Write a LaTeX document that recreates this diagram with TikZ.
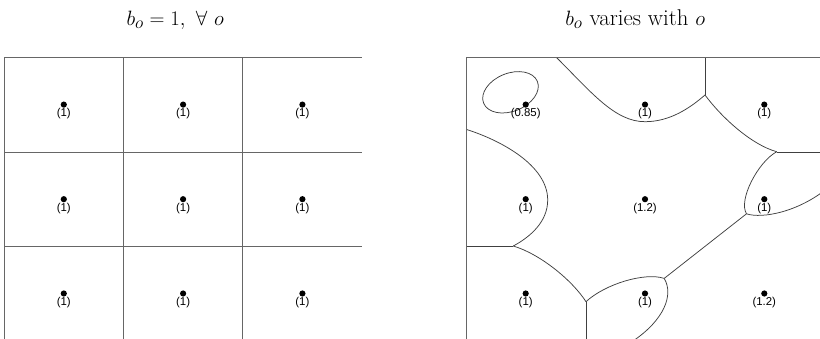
\documentclass[tikz,border=0pt]{standalone}
\usepackage{fontspec}
\newfontfamily\labfont{Liberation Sans}
\begin{document}
\begin{tikzpicture}[x=1pt,y=-1pt,
  dot/.style={circle,fill=black,inner sep=0pt,minimum size=6.2pt},
  lab/.style={font=\labfont\fontsize{11.4}{13}\selectfont,inner sep=0pt,anchor=base},
  gridl/.style={draw=black!60,line width=0.9pt},
  bnd/.style={draw=black!75,line width=0.75pt},
  title/.style={font=\fontsize{22.8}{27}\selectfont,anchor=base,inner sep=0pt}]
\useasboundingbox (0,0) rectangle (820,339);

% titles
\node[title] (t1) at (175.3,25.8) {$b_o = 1,\ \forall\ o$};
\node[title] (t2) at (635.3,25.8) {$b_o$ varies with $o$};

% left panel
\draw[gridl] (4,339) -- (4,57.7) -- (362,57.7);
\draw[gridl] (123.3,57.7) -- (123.3,339);
\draw[gridl] (242.7,57.7) -- (242.7,339);
\draw[gridl] (4,152) -- (362,152);
\draw[gridl] (4,246.3) -- (362,246.3);
\foreach \i/\x in {1/63.8,2/183.1,3/302.4}
  \foreach \j/\y in {1/104.6,2/199.2,3/293.5}{
    \node[dot] (a\i\j) at (\x,\y) {};
    \node[lab] (ta\i\j) at (\x,\y+12) {(1)};
  }

% right panel
\begin{scope}
\clip (466,57.7) rectangle (820,339);
% top-middle region
\draw[bnd] (556.7,57.7) .. controls (591.7,92.7) and (615,121.7) .. (645,121.7)
                        .. controls (670,121.7) and (690,108) .. (705,95);
\draw[bnd] (705,57.7) -- (705,95);
% top-right region
\draw[bnd] (705,95) .. controls (722,118) and (752,145) .. (776.7,151.7);
\draw[bnd] (776.7,152) -- (820,152);
% right-middle region
\draw[bnd] (776.7,151.7) .. controls (758,162) and (738,200) .. (746.5,213.8);
\draw[bnd] (746.5,213.8) .. controls (762,219) and (800,212) .. (830,186);
% center / bottom-right
\draw[bnd] (746.5,213.8) -- (664.2,278.4);
% bottom-middle region
\draw[bnd] (586,301.7) .. controls (605,284) and (645,272) .. (664.2,278.4);
\draw[bnd] (664.2,278.4) .. controls (674,295) and (664,320) .. (633,341);
\draw[bnd] (586,301.7) -- (586,339);
% bottom-left region
\draw[bnd] (513.3,246) .. controls (540,254) and (572,280) .. (586,301.7);
\draw[bnd] (466,246.3) -- (513.3,246.3);
% left-middle region
\draw[bnd] (466,129.3) .. controls (500,140) and (547.7,165) .. (547.7,200)
                       .. controls (547.7,222) and (530,237) .. (513.3,246);
% top-left region
\draw[bnd,rotate around={22:(510.5,92.3)}] (510.5,92.3) ellipse [x radius=29pt, y radius=19pt];
\end{scope}
\draw[gridl] (466,339) -- (466,57.7) -- (820,57.7);

\foreach \i/\x in {1/525.7,2/645,3/764.3}
  \foreach \j/\y in {1/104.6,2/199.2,3/293.5}{
    \node[dot] (b\i\j) at (\x,\y) {};
  }
\node[lab] (tb11) at (525.7,116.6) {(0.85)};
\node[lab] (tb21) at (645,116.6) {(1)};
\node[lab] (tb31) at (764.3,116.6) {(1)};
\node[lab] (tb12) at (525.7,211.2) {(1)};
\node[lab] (tb22) at (645,211.2) {(1.2)};
\node[lab] (tb32) at (764.3,211.2) {(1)};
\node[lab] (tb13) at (525.7,305.5) {(1)};
\node[lab] (tb23) at (645,305.5) {(1)};
\node[lab] (tb33) at (764.3,305.5) {(1.2)};
\end{tikzpicture}
\end{document}
